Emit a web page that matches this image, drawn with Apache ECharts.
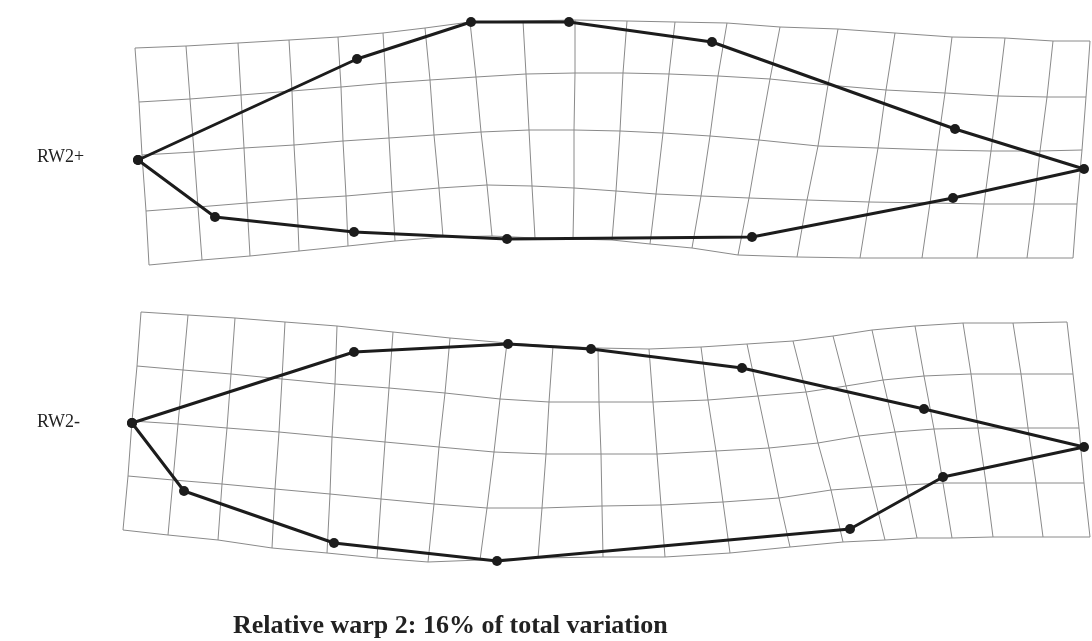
<!DOCTYPE html>
<html>
<head>
<meta charset="utf-8">
<script src="https://cdn.jsdelivr.net/npm/echarts@6/dist/echarts.min.js"></script>
<style>
html,body{margin:0;padding:0;background:#fff;}
#chart{width:1092px;height:641px;}
</style>
</head>
<body>
<div id="chart"></div>
<script>
// Deformation grid RW2+ (rows of node x / y positions, 5 rows x 20 columns)
const topGridX = [
  [135,186,238,289,338,383,425,470,523,575,627,675,727,780,838,895,952,1005,1053,1090],
  [139,190,241,292,341,386,430,476,526,575,623,669,718,770,828,886,945,998,1047,1086],
  [142,194,244,294,343,389,434,481,529,574,620,663,710,759,818,878,937,991,1040,1082],
  [146,198,247,297,346,392,439,487,532,574,616,656,701,749,807,869,930,984,1034,1077],
  [149,202,250,299,348,395,443,492,535,573,612,650,692,738,797,860,922,977,1027,1073]
];
const topGridY = [
  [48,46,43,40,37,33,28,22,21,20,21,22,23,27,29,33,37,38,41,41],
  [102,99,95,91,87,83,80,77,74,73,73,74,76,79,85,90,93,96,97,97],
  [155,152,148,145,141,138,135,132,130,130,131,133,136,140,146,148,150,151,151,150],
  [211,207,203,199,196,192,188,185,186,188,191,194,196,198,200,202,203,204,204,204],
  [265,260,256,251,246,241,237,236,238,239,240,244,248,255,257,258,258,258,258,258]
];
// Deformation grid RW2-
const botGridX = [
  [141,188,235,285,337,393,450,507,553,598,649,701,747,793,833,872,915,963,1013,1067],
  [137,183,231,282,335,389,445,500,549,599,653,708,758,806,846,883,924,971,1021,1073],
  [132,178,227,279,332,385,439,494,546,601,657,716,769,818,859,895,934,978,1028,1079],
  [128,173,222,275,330,381,434,487,542,602,661,723,779,831,872,906,943,986,1036,1084],
  [123,168,218,272,327,377,428,480,538,603,665,730,790,843,885,917,952,993,1043,1090]
];
const botGridY = [
  [312,315,318,322,326,332,338,343,346,348,349,347,344,341,336,330,326,323,323,322],
  [366,370,374,379,384,388,393,399,402,402,402,400,396,392,386,380,376,374,374,374],
  [421,424,428,432,437,442,447,452,454,454,454,451,448,443,436,432,429,428,428,428],
  [476,480,484,489,494,499,504,508,508,506,505,502,498,490,487,485,483,483,483,483],
  [530,535,540,548,553,558,562,560,558,557,557,553,547,542,540,538,538,537,537,537]
];
// Landmark outlines
const topOutline = [[138,160],[357,59],[471,22],[569,22],[712,42],[955,129],[1084,169],[953,198],[752,237],[507,239],[354,232],[215,217]];
const botOutline = [[132,423],[354,352],[508,344],[591,349],[742,368],[924,409],[1084,447],[943,477],[850,529],[497,561],[334,543],[184,491]];
const rowLabels = ['RW2+', 'RW2-'];
const caption = 'Relative warp 2: 16% of total variation';

function gridLines(X, Y) {
  const out = [];
  for (let r = 0; r < X.length; r++) {
    out.push({ coords: X[r].map((x, c) => [x, Y[r][c]]) });
  }
  for (let c = 0; c < X[0].length; c++) {
    out.push({ coords: X.map((row, r) => [row[c], Y[r][c]]) });
  }
  return out;
}
function closed(pts) { return pts.concat([pts[0]]); }

const chart = echarts.init(document.getElementById('chart'), null, { renderer: 'canvas' });
const gridStyle = { color: '#8a8a8a', width: 1, opacity: 1 };
const outlineSeries = (pts) => ({
  type: 'line', data: closed(pts), symbol: 'circle', symbolSize: 10, showSymbol: true,
  itemStyle: { color: '#1c1c1c' }, lineStyle: { color: '#1c1c1c', width: 3 },
  silent: true, z: 5, clip: false
});
chart.setOption({
  animation: false,
  backgroundColor: '#ffffff',
  grid: { left: 0, right: 0, top: 0, bottom: 0 },
  xAxis: { type: 'value', min: 0, max: 1092, show: false },
  yAxis: { type: 'value', min: 0, max: 641, inverse: true, show: false },
  graphic: [
    { type: 'text', left: 37, top: 148, style: { text: rowLabels[0], font: '18px "Liberation Serif", serif', fill: '#222' } },
    { type: 'text', left: 37, top: 413, style: { text: rowLabels[1], font: '18px "Liberation Serif", serif', fill: '#222' } },
    { type: 'text', left: 233, top: 613, style: { text: caption, font: 'bold 26px "Liberation Serif", serif', fill: '#222' } }
  ],
  series: [
    { type: 'lines', coordinateSystem: 'cartesian2d', polyline: true, silent: true, z: 1,
      lineStyle: gridStyle, data: gridLines(topGridX, topGridY) },
    { type: 'lines', coordinateSystem: 'cartesian2d', polyline: true, silent: true, z: 1,
      lineStyle: gridStyle, data: gridLines(botGridX, botGridY) },
    outlineSeries(topOutline),
    outlineSeries(botOutline)
  ]
});
</script>
</body>
</html>
